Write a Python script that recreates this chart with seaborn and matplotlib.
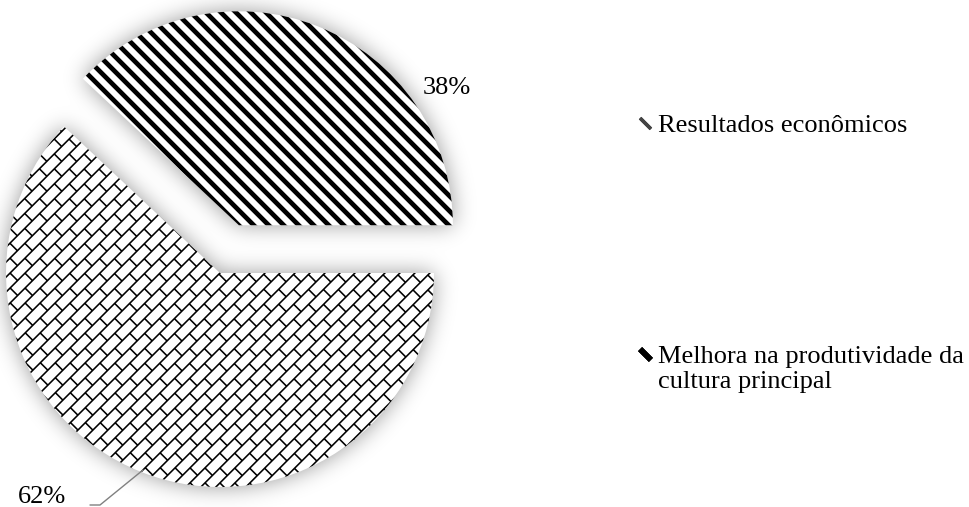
import numpy as np
import matplotlib
matplotlib.use("Agg")
import matplotlib.pyplot as plt
import seaborn as sns
from matplotlib.collections import LineCollection
from matplotlib.lines import Line2D
from matplotlib.legend_handler import HandlerBase

# Data
categorias = ["Resultados econômicos",
              "Melhora na produtividade da\ncultura principal"]
percentuais = [62, 38]
destaque = [0.0, 0.24]

sns.set_theme(style="white")
plt.rcParams["font.family"] = ["Liberation Serif", "DejaVu Serif"]
plt.rcParams["text.color"] = "black"

W, H, DPI = 969, 507, 100
fig = plt.figure(figsize=(W / DPI, H / DPI), dpi=DPI)
fig.patch.set_facecolor("white")
ax = fig.add_axes([0, 0, 1, 1])

R_PX = 214.0            # pie radius in pixels
CX, CY = 220.0, 273.0   # pie centre, pixels from the top-left corner


def px(x, y):
    """Pixel position (from top-left) to data coordinates."""
    return (x - CX) / R_PX, (CY - y) / R_PX


xmin, ymax = px(0, 0)
xmax, ymin = px(W, H)

total = sum(percentuais)
inicio = 360.0 - 360.0 * percentuais[0] / total
wedges, _ = ax.pie(percentuais, explode=destaque, startangle=inicio,
                   counterclock=True, radius=1.0, center=(0, 0),
                   colors=["white", "white"],
                   wedgeprops=dict(linewidth=0, zorder=2))

# soft outer shadow around the slices
gx = (np.arange(W) + 0.5 - CX) / R_PX
gy = (CY - (np.arange(H) + 0.5)) / R_PX
GX, GY = np.meshgrid(gx, gy)
mask = np.zeros((H, W))
for w in wedges:
    cx, cy = w.center
    dx, dy = GX - cx, GY - cy
    rr = np.hypot(dx, dy)
    ang = np.degrees(np.arctan2(dy, dx)) % 360
    span = w.theta2 - w.theta1
    inside = (rr <= w.r) & (((ang - w.theta1) % 360) <= span)
    mask[inside] = 1.0
sig = 11.0
k = np.arange(-int(4 * sig), int(4 * sig) + 1)
kern = np.exp(-0.5 * (k / sig) ** 2)
kern /= kern.sum()
pad = len(k)
mp = np.pad(mask, pad)
blur = np.apply_along_axis(lambda r: np.convolve(r, kern, mode="same"), 1, mp)
blur = np.apply_along_axis(lambda c: np.convolve(c, kern, mode="same"), 0, blur)
blur = blur[pad:-pad, pad:-pad]
sombra = np.zeros((H, W, 4))
sombra[..., 3] = np.clip(blur * 0.40, 0, 1)
ax.imshow(sombra, extent=(xmin, xmax, ymin, ymax), origin="upper",
          zorder=1, interpolation="bilinear")

# diagonal stripes on the smaller slice
fatia_listras = wedges[1]
passo = 15.0 / R_PX
cs = np.arange(-4.0, 4.0, passo) + 0.5 * passo
seg = [[(c - 3.0, 3.0), (c + 3.0, -3.0)] for c in cs]  # lines x + y = c
listras = LineCollection(seg, colors="black", linewidths=3.4, zorder=3)
ax.add_collection(listras)
listras.set_clip_path(fatia_listras)

# brick pattern on the larger slice
fatia_tijolo = wedges[0]
h = 10.6 / R_PX
L = 21.0 / R_PX
s2 = np.sqrt(2) / 2
eu = np.array([s2, s2])     # along rows (up-right)
ev = np.array([-s2, s2])    # across rows
linhas = []
ext = 3.0
nk = int(ext / h) + 1
for kk in range(-nk, nk + 1):
    v = kk * h
    linhas.append([tuple(-ext * eu + v * ev), tuple(ext * eu + v * ev)])
    off = (kk % 2) * L / 2
    for u in np.arange(-ext, ext, L) + off:
        linhas.append([tuple(u * eu + v * ev), tuple(u * eu + (v + h) * ev)])
tijolos = LineCollection(linhas, colors="black", linewidths=1.15, zorder=3)
ax.add_collection(tijolos)
tijolos.set_clip_path(fatia_tijolo)

# value labels
ax.text(*px(447, 88), f"{percentuais[1]}%", fontsize=19, ha="center",
        va="center", color="black", zorder=4)
ax.text(*px(42, 486), f"{percentuais[0]}%", fontsize=19, ha="center",
        va="top", color="black", zorder=4)
guia = np.array([px(90, 505), px(100, 505), px(143, 470)])
ax.plot(guia[:, 0], guia[:, 1], color="#808080", lw=1.0, zorder=4)

ax.set_xlim(xmin, xmax)
ax.set_ylim(ymin, ymax)
ax.set_aspect("equal")
ax.axis("off")


class MarcadorLinha(HandlerBase):
    """Legend marker placed beside the first line of its label."""

    def __init__(self, subida=0.0):
        super().__init__()
        self.subida = subida

    def create_artists(self, legend, orig_handle, xdescent, ydescent,
                       width, height, fontsize, trans):
        m = Line2D([width / 2 - xdescent],
                   [height / 2 - ydescent + self.subida])
        m.update_from(orig_handle)
        m.set_transform(trans)
        return [m]


# legend
alcas = [
    Line2D([], [], linestyle="none", marker=(2, 2, 45), markersize=11,
           markeredgewidth=2.5, color="#444444"),
    Line2D([], [], linestyle="none", marker=(2, 2, 45), markersize=11,
           markeredgewidth=4.0, color="black"),
]
leg = fig.legend(alcas, categorias, loc="upper left",
                 bbox_to_anchor=(636 / W, 1 - 114 / H), frameon=False,
                 fontsize=19, handlelength=0.65, handletextpad=0.2,
                 labelspacing=7.9, borderpad=0, borderaxespad=0,
                 handler_map={alcas[0]: MarcadorLinha(0.0),
                              alcas[1]: MarcadorLinha(10.5)})
for t in leg.get_texts():
    t.set_linespacing(1.2)
    t.set_color("black")

fig.savefig("out.png", dpi=DPI, facecolor="white")
